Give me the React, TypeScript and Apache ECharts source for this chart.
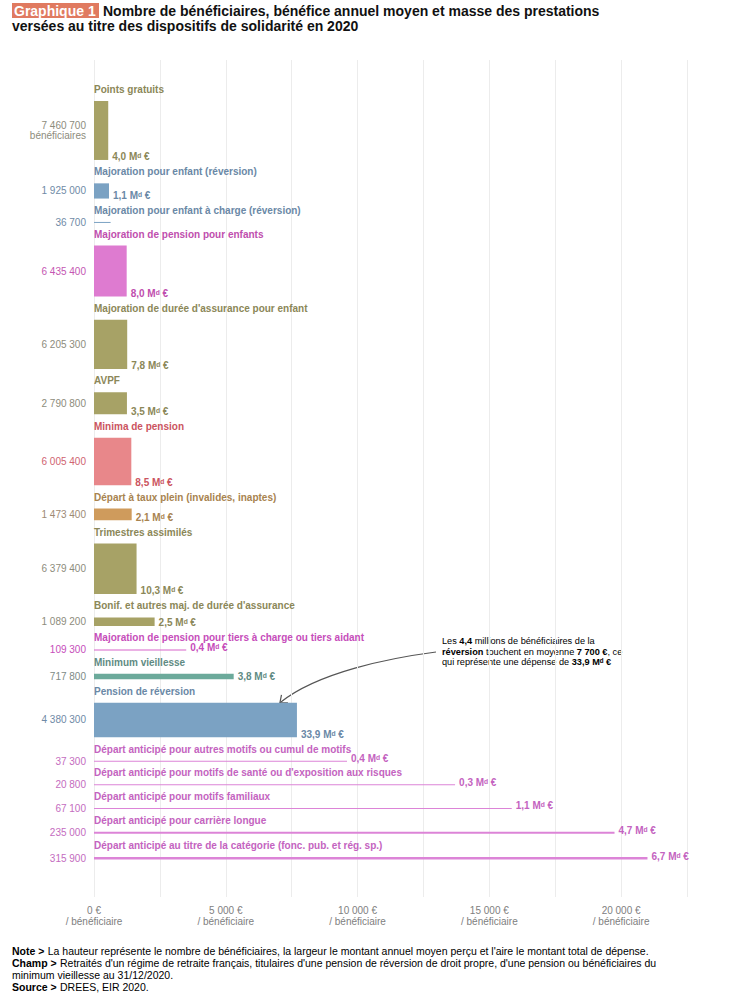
import React, { useEffect, useRef } from "react";
import * as echarts from "echarts";

// ---------- data ----------
const names = [
  "Points gratuits",
  "Majoration pour enfant (réversion)",
  "Majoration pour enfant à charge (réversion)",
  "Majoration de pension pour enfants",
  "Majoration de durée d'assurance pour enfant",
  "AVPF",
  "Minima de pension",
  "Départ à taux plein (invalides, inaptes)",
  "Trimestres assimilés",
  "Bonif. et autres maj. de durée d'assurance",
  "Majoration de pension pour tiers à charge ou tiers aidant",
  "Minimum vieillesse",
  "Pension de réversion",
  "Départ anticipé pour autres motifs ou cumul de motifs",
  "Départ anticipé pour motifs de santé ou d'exposition aux risques",
  "Départ anticipé pour motifs familiaux",
  "Départ anticipé pour carrière longue",
  "Départ anticipé au titre de la catégorie (fonc. pub. et rég. sp.)",
];
const beneficiaries = [
  7460700, 1925000, 36700, 6435400, 6205300, 2790800, 6005400, 1473400, 6379400,
  1089200, 109300, 717800, 4380300, 37300, 20800, 67100, 235000, 315900,
];
// average annual amount per beneficiary (€)
const avgAmount = [
  540, 570, 630, 1240, 1260, 1250, 1415, 1430, 1615, 2300, 3500, 5300, 7700, 9600,
  13700, 15850, 19750, 21000,
];
// total spending labels (Md€)
const totalMd = [
  "4,0", "1,1", "", "8,0", "7,8", "3,5", "8,5", "2,1", "10,3", "2,5", "0,4", "3,8",
  "33,9", "0,4", "0,3", "1,1", "4,7", "6,7",
];
const families = [
  "olive", "blue", "blue", "pink", "olive", "olive", "red", "orange", "olive", "olive",
  "magenta", "teal", "blue", "violet", "violet", "violet", "violet", "violet",
];
const xTickValues = [0, 5000, 10000, 15000, 20000];

// ---------- styles ----------
const palette: Record<string, { bar: string; text: string; count: string }> = {
  olive: { bar: "#a7a266", text: "#8b8758", count: "#8d8c7c" },
  blue: { bar: "#7ba2c3", text: "#6a88a6", count: "#6f8aa6" },
  pink: { bar: "#de7bd0", text: "#c04eae", count: "#c456b2" },
  red: { bar: "#e8878a", text: "#cb5460", count: "#cf6470" },
  orange: { bar: "#cf9b5c", text: "#a8834f", count: "#9d8a74" },
  teal: { bar: "#6caa9b", text: "#5f8b83", count: "#7d8a86" },
  magenta: { bar: "#d865c9", text: "#c64dba", count: "#c64dba" },
  violet: { bar: "#dc84d7", text: "#c463c0", count: "#c46cc0" },
};
const NARROW = "'Liberation Sans Narrow','Arial Narrow',Arial,sans-serif";
const SANS = "'Liberation Sans',Arial,Helvetica,sans-serif";
const GAP = 2.96e6; // vertical space (in beneficiary units) reserved for each title

const fmtInt = (n: number) =>
  String(Math.round(n)).replace(/\B(?=(\d{3})+(?!\d))/g, " ");

const tops: number[] = [];
{
  let acc = GAP;
  beneficiaries.forEach((b) => {
    tops.push(acc);
    acc += b + GAP;
  });
}

export default function App() {
  const ref = useRef<HTMLDivElement>(null);

  useEffect(() => {
    if (!ref.current) return;
    const chart = echarts.init(ref.current, undefined, { renderer: "svg" });

    const data = names.map((_, i) => [i, avgAmount[i], tops[i], beneficiaries[i]]);

    const renderItem = (params: any, api: any) => {
      const i = params.dataIndex;
      const fam = palette[families[i]];
      const p0 = api.coord([0, tops[i]]);
      const p1 = api.coord([avgAmount[i], tops[i] + beneficiaries[i]]);
      const w = p1[0] - p0[0];
      const h = Math.max(p1[1] - p0[1], 1);
      const children: any[] = [
        {
          type: "rect",
          shape: { x: p0[0], y: p0[1], width: w, height: h },
          style: { fill: fam.bar },
        },
        {
          type: "text",
          x: p0[0],
          y: p0[1] - 11.5,
          style: {
            text: names[i],
            fill: fam.text,
            fontFamily: NARROW,
            fontWeight: "bold",
            fontSize: 10,
            verticalAlign: "middle",
            align: "left",
          },
        },
        {
          type: "text",
          x: p0[0] - 8,
          y: p0[1] + h / 2,
          style: {
            text: i === 0 ? fmtInt(beneficiaries[i]) + "\nbénéficiaires" : fmtInt(beneficiaries[i]),
            fill: fam.count,
            fontFamily: NARROW,
            fontSize: 10,
            lineHeight: 10,
            verticalAlign: "middle",
            align: "right",
          },
        },
      ];
      if (totalMd[i]) {
        children.push({
          type: "text",
          x: p1[0] + 4,
          y: p0[1] + h - 3,
          style: {
            text: totalMd[i] + " Mᵈ €",
            fill: fam.text,
            fontFamily: NARROW,
            fontWeight: "bold",
            fontSize: 10,
            verticalAlign: "middle",
            align: "left",
          },
        });
      }
      return { type: "group", children };
    };

    const notesRich = {
      n: { fontFamily: NARROW, fontSize: 10.5, color: "#333" },
      b: { fontFamily: NARROW, fontSize: 10.5, fontWeight: "bold", color: "#222" },
    };

    const option: any = {
      animation: false,
      grid: { left: 94, right: 43, top: 60, bottom: 103, containLabel: false },
      xAxis: {
        type: "value",
        min: 0,
        max: 22500,
        interval: 2500,
        axisLine: { show: false },
        axisTick: { show: false },
        splitLine: { show: true, lineStyle: { color: "#ececec", width: 1 } },
        axisLabel: {
          margin: 8,
          color: "#808080",
          fontFamily: NARROW,
          fontSize: 10,
          lineHeight: 11,
          formatter: (v: number) =>
            xTickValues.includes(v) ? `${fmtInt(v)} €\n/ bénéficiaire` : "",
        },
      },
      yAxis: { type: "value", inverse: true, min: -2.23e6, max: 103.7e6, show: false },
      series: [
        {
          type: "custom",
          renderItem,
          data,
          encode: { x: 1, y: 2 },
          clip: false,
        },
      ],
      graphic: [
        { type: "rect", shape: { x: 12, y: 3, width: 87, height: 15 }, style: { fill: "#e07a60" } },
        {
          type: "text",
          x: 14,
          y: 10.5,
          style: {
            text: "Graphique 1",
            fill: "#fff",
            fontFamily: NARROW,
            fontWeight: "bold",
            fontSize: 14,
            verticalAlign: "middle",
          },
        },
        {
          type: "text",
          x: 103,
          y: 10.5,
          style: {
            text: "Nombre de bénéficiaires, bénéfice annuel moyen et masse des prestations",
            fill: "#111",
            fontFamily: NARROW,
            fontWeight: "bold",
            fontSize: 14,
            verticalAlign: "middle",
          },
        },
        {
          type: "text",
          x: 12,
          y: 25.5,
          style: {
            text: "versées au titre des dispositifs de solidarité en 2020",
            fill: "#111",
            fontFamily: NARROW,
            fontWeight: "bold",
            fontSize: 14,
            verticalAlign: "middle",
          },
        },
        {
          type: "text",
          x: 12,
          y: 945,
          style: {
            text:
              "{b|Note >} {n|La hauteur représente le nombre de bénéficiaires, la largeur le montant annuel moyen perçu et l'aire le montant total de dépense.}\n" +
              "{b|Champ >} {n|Retraités d'un régime de retraite français, titulaires d'une pension de réversion de droit propre, d'une pension ou bénéficiaires du}\n" +
              "{n|minimum vieillesse au 31/12/2020.}\n" +
              "{b|Source >} {n|DREES, EIR 2020.}",
            lineHeight: 12,
            verticalAlign: "top",
            rich: notesRich,
          },
        },
      ],
    };
    chart.setOption(option);

    // annotation + arrow anchored on the "Pension de réversion" bar
    const k = 12;
    const tip = chart.convertToPixel({ gridIndex: 0 }, [avgAmount[k], tops[k]]) as number[];
    const E = [tip[0] - 17, tip[1]];
    const S = [436, 652];
    const C1 = [390, 658];
    const C2 = [318, 672];
    const dx = E[0] - C2[0];
    const dy = E[1] - C2[1];
    const len = Math.hypot(dx, dy);
    const ux = dx / len;
    const uy = dy / len;
    const arm = (ang: number) => {
      const c = Math.cos(ang);
      const s = Math.sin(ang);
      const bx = -ux * c + uy * s;
      const by = -ux * s - uy * c;
      return [E[0] + 8 * bx, E[1] + 8 * by];
    };
    const annRich = {
      n: { fontFamily: SANS, fontSize: 9.2, color: "#555" },
      b: { fontFamily: SANS, fontSize: 9.2, fontWeight: "bold", color: "#333" },
    };
    chart.setOption({
      graphic: [
        ...option.graphic,
        {
          type: "bezierCurve",
          shape: { x1: S[0], y1: S[1], cpx1: C1[0], cpy1: C1[1], cpx2: C2[0], cpy2: C2[1], x2: E[0], y2: E[1] },
          style: { stroke: "#555", lineWidth: 1.2, fill: "none" },
        },
        {
          type: "polyline",
          shape: { points: [arm(0.7), E, arm(-0.7)] },
          style: { stroke: "#555", lineWidth: 1.2, fill: "none" },
        },
        {
          type: "text",
          x: 442,
          y: 636,
          style: {
            text:
              "{n|Les }{b|4,4}{n| millions de bénéficiaires de la}\n" +
              "{b|réversion}{n| touchent en moyenne }{b|7 700 €}{n|, ce}\n" +
              "{n|qui représente une dépense de }{b|33,9 Mᵈ €}",
            lineHeight: 10.5,
            verticalAlign: "top",
            rich: annRich,
          },
        },
      ],
    });

    return () => chart.dispose();
  }, []);

  return (
    <div
      ref={ref}
      style={{ position: "absolute", left: 0, top: 0, width: 730, height: 1000, background: "#fff" }}
    />
  );
}
